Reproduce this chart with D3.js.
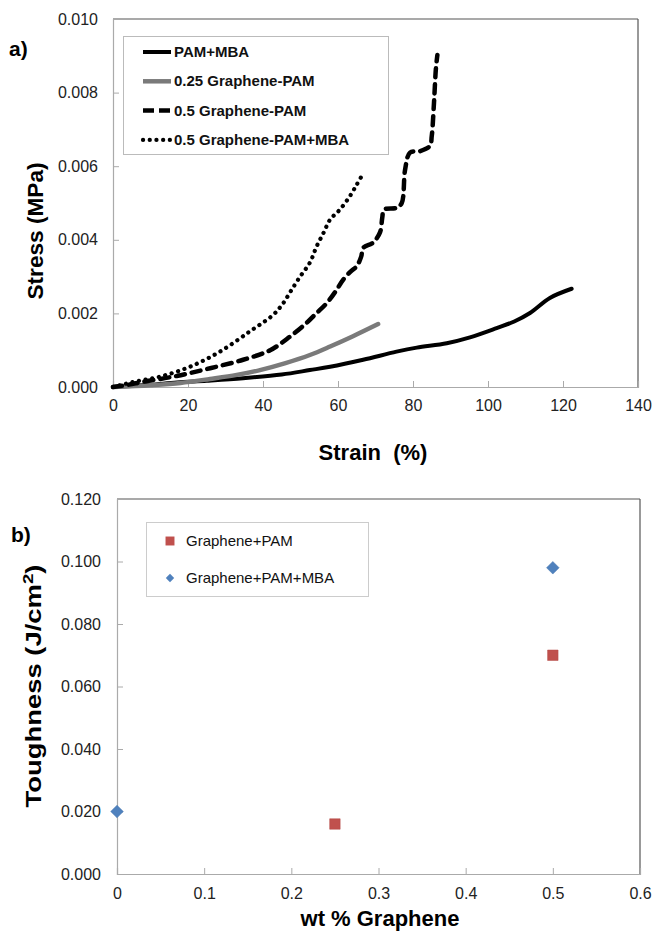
<!DOCTYPE html>
<html>
<head>
<meta charset="utf-8">
<script src="https://cdn.jsdelivr.net/npm/d3@7"></script>
<style>
  body { margin: 0; background: #fff; }
  text { font-family: "Liberation Sans", Arial, sans-serif; }
</style>
</head>
<body>
<div id="chart"></div>
<script>
// ---- data ----
// panel a: stress-strain curves, [strain %, stress MPa]
var pamMba = [[0,0],[5,0.00003],[10,0.00006],[17,0.00012],[25,0.00017],[34.7,0.00024],[45,0.00034],[52.5,0.00046],[57.9,0.00055],[66.7,0.00074],[75.6,0.00096],[81,0.00107],[89,0.00119],[95.2,0.00135],[102.3,0.0016],[107,0.00178],[111.2,0.00201],[116.5,0.00242],[122.3,0.00267]];
var gr025Pam = [[0,0],[10,0.00005],[18,0.00011],[25.9,0.00022],[33,0.00033],[39.2,0.00046],[46,0.00065],[52.5,0.00087],[57.9,0.0011],[64,0.00138],[70.7,0.00171]];
var gr05Pam = [[0,0],[4,0.00006],[8,0.00014],[17,0.0003],[25.9,0.00051],[34.7,0.00074],[41.9,0.001],[47.2,0.00137],[51.6,0.00174],[54,0.00198],[57,0.00228],[59.5,0.00262],[61.4,0.00292],[63.5,0.00315],[65,0.00328],[66.2,0.00355],[66.7,0.00378],[69.3,0.00392],[71.2,0.0042],[71.8,0.0046],[72.3,0.00482],[75.7,0.00487],[77,0.005],[77.9,0.00591],[79.2,0.00637],[81.9,0.00641],[84.5,0.00655],[85,0.00682],[85.6,0.00773],[86.1,0.00864],[86.5,0.00902]];
var gr05PamMba = [[0,0],[1.9,0.00005],[6,0.00015],[12.5,0.00028],[20.5,0.00055],[28.5,0.00096],[36.5,0.00151],[42.7,0.00196],[45.4,0.00228],[47.5,0.00262],[49.9,0.003],[52.5,0.00338],[54.3,0.00382],[56.2,0.0042],[57.9,0.00455],[60.5,0.00482],[63.2,0.00519],[65,0.0055],[66.7,0.0058]];

var curveNames = ["PAM+MBA", "0.25 Graphene-PAM", "0.5 Graphene-PAM", "0.5 Graphene-PAM+MBA"];
var strainTicks = [0, 20, 40, 60, 80, 100, 120, 140];
var stressTicks = [0, 0.002, 0.004, 0.006, 0.008, 0.010];

// panel b: toughness vs wt % graphene
var pamWt = [0.25, 0.5];
var pamTough = [0.016, 0.070];
var mbaWt = [0, 0.5];
var mbaTough = [0.020, 0.098];
var wtTicks = [0, 0.1, 0.2, 0.3, 0.4, 0.5, 0.6];
var toughTicks = [0, 0.02, 0.04, 0.06, 0.08, 0.1, 0.12];

var W = 654, H = 932;
var svg = d3.select("#chart").append("svg").attr("width", W).attr("height", H);

var styles = [
  {stroke: "#000", width: 4, dash: null},
  {stroke: "#7a7a7a", width: 4.5, dash: null},
  {stroke: "#000", width: 4.5, dash: "9 7"},
  {stroke: "#000", width: 4.2, dash: "0.1 6.6"}
];

// diamond drawn as a square turned 45 degrees
function diamondPath(r) {
  return "M0," + (-r) + "L" + r + ",0L0," + r + "L" + (-r) + ",0Z";
}

function frame(g, box) {
  g.append("line").attr("x1", box.left).attr("x2", box.right).attr("y1", box.top).attr("y2", box.top)
    .attr("stroke", "#555").attr("stroke-width", 1.2);
  g.append("line").attr("x1", box.right).attr("x2", box.right).attr("y1", box.top).attr("y2", box.bottom)
    .attr("stroke", "#555").attr("stroke-width", 1.2);
}

function styleAxis(ax) {
  ax.select(".domain").attr("stroke", "#aaa").attr("stroke-width", 1.2);
  ax.selectAll(".tick line").attr("stroke", "#aaa");
  ax.selectAll("text").attr("font-size", 16).attr("fill", "#222")
    .style("font-family", "'Liberation Sans', Arial, sans-serif");
}

// ===== panel a =====
var a = {left: 113, right: 638, top: 19, bottom: 387};
var xA = d3.scaleLinear().domain([0, 140]).range([a.left, a.right]);
var yA = d3.scaleLinear().domain([0, 0.010]).range([a.bottom, a.top]);

var gA = svg.append("g");
frame(gA, a);

var axA_x = gA.append("g").attr("transform", "translate(0," + a.bottom + ")")
  .call(d3.axisBottom(xA).tickValues(strainTicks).tickSize(-6).tickPadding(13).tickFormat(d3.format("d")));
var axA_y = gA.append("g").attr("transform", "translate(" + a.left + ",0)")
  .call(d3.axisLeft(yA).tickValues(stressTicks).tickSize(-6).tickPadding(15).tickFormat(d3.format(".3f")));
styleAxis(axA_x);
styleAxis(axA_y);

var line = d3.line().x(function(d) { return xA(d[0]); }).y(function(d) { return yA(d[1]); })
  .curve(d3.curveCatmullRom.alpha(0.5));

[pamMba, gr025Pam, gr05Pam, gr05PamMba].forEach(function(ser, i) {
  var s = styles[i];
  gA.append("path").datum(ser).attr("d", line)
    .attr("fill", "none").attr("stroke", s.stroke).attr("stroke-width", s.width)
    .attr("stroke-linecap", "round").attr("stroke-linejoin", "round")
    .attr("stroke-dasharray", s.dash);
});

// legend a
var legA = gA.append("g");
legA.append("rect").attr("x", 123.5).attr("y", 36.5).attr("width", 265).attr("height", 118)
  .attr("fill", "#fff").attr("stroke", "#bbb");
curveNames.forEach(function(n, i) {
  var yy = 52 + i * 29.3;
  var s = styles[i];
  legA.append("line").attr("x1", 143).attr("x2", 171).attr("y1", yy).attr("y2", yy)
    .attr("stroke", s.stroke).attr("stroke-width", s.width)
    .attr("stroke-linecap", i == 3 ? "round" : "butt")
    .attr("stroke-dasharray", i == 2 ? "11 5" : s.dash);
  legA.append("text").attr("x", 174).attr("y", yy + 5).attr("font-size", 15).attr("font-weight", "bold")
    .attr("fill", "#111").text(n);
});

gA.append("text").attr("x", 9).attr("y", 56).attr("font-size", 21).attr("font-weight", "bold").text("a)");
gA.append("text").attr("transform", "translate(43,231) rotate(-90)")
  .attr("text-anchor", "middle").attr("font-size", 22).attr("font-weight", "bold")
  .attr("textLength", 137).attr("lengthAdjust", "spacingAndGlyphs").text("Stress (MPa)");
gA.append("text").attr("x", 373).attr("y", 460).attr("text-anchor", "middle")
  .attr("font-size", 22).attr("font-weight", "bold").style("white-space", "pre")
  .text("Strain  (%)");

// ===== panel b =====
var b = {left: 117, right: 640, top: 499, bottom: 874};
var xB = d3.scaleLinear().domain([0, 0.6]).range([b.left, b.right]);
var yB = d3.scaleLinear().domain([0, 0.12]).range([b.bottom, b.top]);

var gB = svg.append("g");
frame(gB, b);

var axB_x = gB.append("g").attr("transform", "translate(0," + b.bottom + ")")
  .call(d3.axisBottom(xB).tickValues(wtTicks).tickSize(-6).tickPadding(14)
    .tickFormat(function(d) { return d === 0 ? "0" : d3.format(".1f")(d); }));
var axB_y = gB.append("g").attr("transform", "translate(" + b.left + ",0)")
  .call(d3.axisLeft(yB).tickValues(toughTicks).tickSize(-6).tickPadding(16).tickFormat(d3.format(".3f")));
styleAxis(axB_x);
styleAxis(axB_y);

var sq = d3.symbol().type(d3.symbolSquare).size(110);

gB.selectAll(".sq").data(d3.zip(pamWt, pamTough)).enter().append("path")
  .attr("d", sq).attr("transform", function(d) { return "translate(" + xB(d[0]) + "," + yB(d[1]) + ")"; })
  .attr("fill", "#c0504d").attr("stroke", "#b54a47").attr("stroke-width", 0.5);
gB.selectAll(".dia").data(d3.zip(mbaWt, mbaTough)).enter().append("path")
  .attr("d", diamondPath(6.3)).attr("transform", function(d) { return "translate(" + xB(d[0]) + "," + yB(d[1]) + ")"; })
  .attr("fill", "#4f81bd").attr("stroke", "#4677b0").attr("stroke-width", 0.5);

// legend b
var legB = gB.append("g");
legB.append("rect").attr("x", 146.5).attr("y", 522.5).attr("width", 222).attr("height", 74)
  .attr("fill", "#fff").attr("stroke", "#ccc");
legB.append("path").attr("d", d3.symbol().type(d3.symbolSquare).size(80))
  .attr("transform", "translate(170,541)").attr("fill", "#c0504d");
legB.append("path").attr("d", diamondPath(4.2))
  .attr("transform", "translate(170,578)").attr("fill", "#4f81bd");
legB.append("text").attr("x", 186).attr("y", 546).attr("font-size", 15).attr("fill", "#111").text("Graphene+PAM");
legB.append("text").attr("x", 186).attr("y", 583).attr("font-size", 15).attr("fill", "#111").text("Graphene+PAM+MBA");

gB.append("text").attr("x", 11).attr("y", 542).attr("font-size", 21).attr("font-weight", "bold").text("b)");
var tl = gB.append("text").attr("transform", "translate(41,686) rotate(-90)")
  .attr("text-anchor", "middle").attr("font-size", 22).attr("font-weight", "bold")
  .attr("textLength", 243).attr("lengthAdjust", "spacingAndGlyphs");
tl.append("tspan").text("Toughness (J/cm");
tl.append("tspan").attr("dy", -8).attr("font-size", 15).text("2");
tl.append("tspan").attr("dy", 8).text(")");
gB.append("text").attr("x", 380).attr("y", 926).attr("text-anchor", "middle")
  .attr("font-size", 22).attr("font-weight", "bold").text("wt % Graphene");
</script>
</body>
</html>
